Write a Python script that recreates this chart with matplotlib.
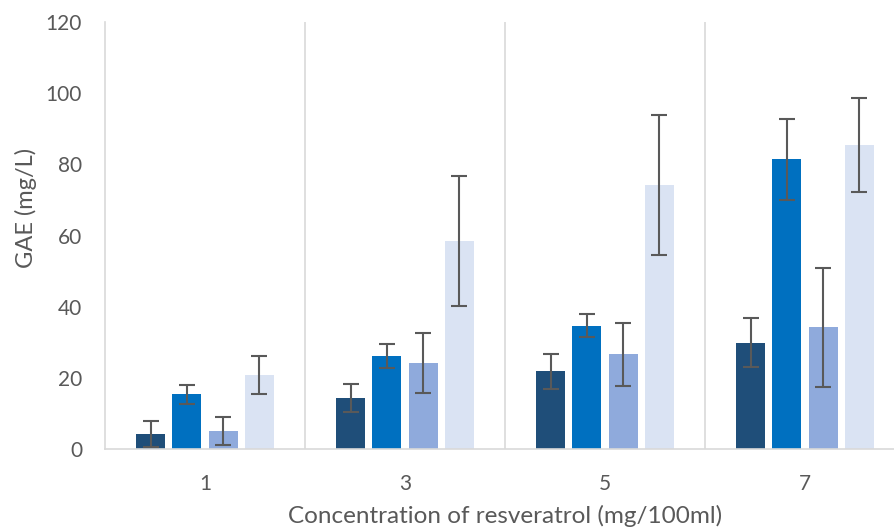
import matplotlib.pyplot as plt
import numpy as np

# Data
concentrations = ["1", "3", "5", "7"]
series_a = [4.3, 14.3, 21.8, 29.9]
series_b = [15.4, 26.1, 34.7, 81.4]
series_c = [5.0, 24.2, 26.6, 34.2]
series_d = [20.8, 58.4, 74.2, 85.4]
err_a = [3.6, 3.9, 4.9, 6.8]
err_b = [2.7, 3.4, 3.2, 11.4]
err_c = [3.9, 8.5, 8.8, 16.8]
err_d = [5.3, 18.3, 19.7, 13.2]

values = [series_a, series_b, series_c, series_d]
errors = [err_a, err_b, err_c, err_d]
colors = ['#1f4e79', '#0070c0', '#8faadc', '#dae3f3']

plt.rcParams['font.family'] = ['Lato', 'DejaVu Sans']

fig = plt.figure(figsize=(8.94, 5.32), dpi=100)
ax = fig.add_axes([105 / 894, 83 / 532, 800 / 894, 427 / 532])

x = np.arange(len(concentrations))
pitch = 0.1815
width = 0.145
for i, (vals, errs, c) in enumerate(zip(values, errors, colors)):
    ax.bar(x + (i - 1.5) * pitch, vals, width, color=c, zorder=2)
    ax.errorbar(x + (i - 1.5) * pitch, vals, yerr=errs, fmt='none',
                ecolor='#595959', elinewidth=1.5, capsize=6, capthick=1.5, zorder=3)

# category separators
for b in x[:-1] + 0.5:
    ax.axvline(b, color='#d9d9d9', lw=1.2, zorder=1)

ax.set_xlim(-0.5, 3.5)
ax.set_ylim(0, 120)
ax.set_yticks(range(0, 121, 20))
ax.set_xticks(x)
ax.set_xticklabels(concentrations)

for s in ['top', 'right']:
    ax.spines[s].set_visible(False)
for s in ['left', 'bottom']:
    ax.spines[s].set_color('#d9d9d9')
    ax.spines[s].set_linewidth(1.2)

ax.tick_params(axis='both', length=0, labelsize=15, colors='#595959')
ax.tick_params(axis='y', pad=16.5)
ax.tick_params(axis='x', pad=18)

ax.set_ylabel('GAE (mg/L)', fontsize=17, color='#595959', va='baseline')
ax.set_xlabel('Concentration of resveratrol (mg/100ml)', fontsize=17.5, color='#595959', va='baseline')
ax.xaxis.set_label_coords(0.5, -74 / 427)
ax.yaxis.set_label_coords(-72 / 800, (449 - 208) / 427)

fig.savefig('out.png', dpi=100)
